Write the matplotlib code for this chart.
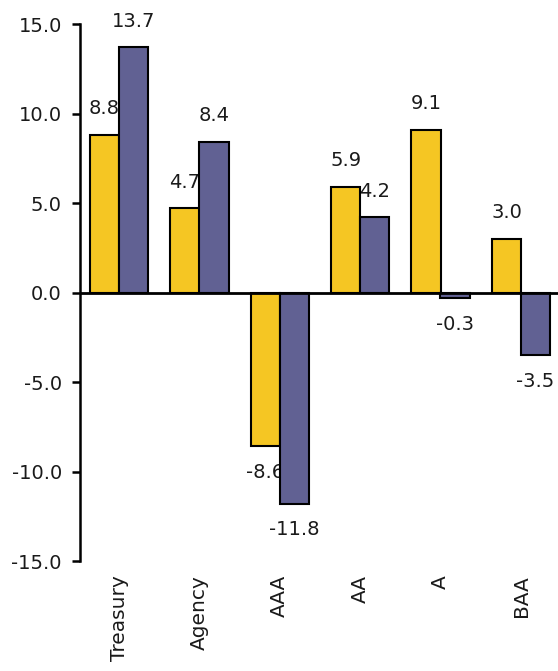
import numpy as np
import matplotlib.pyplot as plt

categories = ['Treasury', 'Agency', 'AAA', 'AA', 'A', 'BAA']
series_a = [8.8, 4.7, -8.6, 5.9, 9.1, 3.0]
series_b = [13.7, 8.4, -11.8, 4.2, -0.3, -3.5]
yticks = [-15, -10, -5, 0, 5, 10, 15]

yellow = '#F5C623'
purple = '#616193'

plt.rcParams['font.family'] = 'DejaVu Sans'
plt.rcParams['font.size'] = 14

fig = plt.figure(figsize=(5.58, 6.71), dpi=100)
ax = fig.add_axes([0.1434, 0.1639, 0.8566, 0.8003])

x = np.arange(len(categories))
w = 0.365
off = 0.18
bars_a = ax.bar(x - off, series_a, w, color=yellow, edgecolor='black', linewidth=1.5, zorder=3)
bars_b = ax.bar(x + off, series_b, w, color=purple, edgecolor='black', linewidth=1.5, zorder=3)

# value labels sit behind the bars, just past the bar end
for bars, vals in [(bars_a, series_a), (bars_b, series_b)]:
    for b, v in zip(bars, vals):
        cx = b.get_x() + b.get_width() / 2
        dy = 12 if v >= 0 else -12
        ax.annotate(f'{v:.1f}', (cx, v), xytext=(0, dy), textcoords='offset points',
                    ha='center', va='bottom' if v >= 0 else 'top',
                    fontsize=14, color='#1a1a1a', zorder=2)

ax.axhline(0, color='black', linewidth=2, zorder=4)

ax.set_xlim(-0.485, 5.46)
ax.set_ylim(-15, 15)
ax.set_yticks(yticks)
ax.set_yticklabels([f'{t:.1f}' for t in yticks], color='#1a1a1a')
ax.set_xticks(x)
ax.set_xticklabels(categories, rotation=90, va='top', ha='center',
                   color='#1a1a1a', fontsize=14.5)

for s in ['top', 'right', 'bottom']:
    ax.spines[s].set_visible(False)
ax.spines['left'].set_linewidth(1.8)
ax.tick_params(axis='y', length=6, width=1.8, pad=7, direction='out')
ax.tick_params(axis='x', length=0, pad=10)

fig.savefig('out.png', dpi=100)
